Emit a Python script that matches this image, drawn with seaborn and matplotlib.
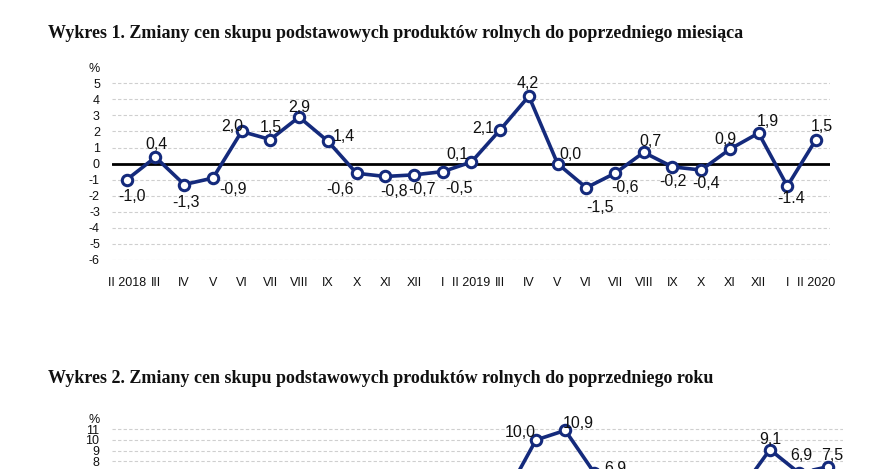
import matplotlib
matplotlib.use("Agg")
import matplotlib.pyplot as plt
import seaborn as sns
import pandas as pd

# ---------------- data ----------------
months = ["II 2018", "III", "IV", "V", "VI", "VII", "VIII", "IX", "X", "XI", "XII", "I",
          "II 2019", "III", "IV", "V", "VI", "VII", "VIII", "IX", "X", "XI", "XII", "I",
          "II 2020"]

mom_values = [-1.0, 0.4, -1.3, -0.9, 2.0, 1.5, 2.9, 1.4, -0.6, -0.8, -0.7, -0.5,
              0.1, 2.1, 4.2, 0.0, -1.5, -0.6, 0.7, -0.2, -0.4, 0.9, 1.9, -1.4, 1.5]
mom_labels = ["-1,0", "0,4", "-1,3", "-0,9", "2,0", "1,5", "2,9", "1,4", "-0,6", "-0,8",
              "-0,7", "-0,5", "0,1", "2,1", "4,2", "0,0", "-1,5", "-0,6", "0,7", "-0,2",
              "-0,4", "0,9", "1,9", "-1.4", "1,5"]

yoy_values = [3.9, 2.0, -0.5, 0.6, 2.2, 1.4, 2.8, 3.9, 2.6, 1.8, 0.9, 1.4,
              2.6, 5.0, 10.0, 10.9, 6.9, 5.0, 4.1, 3.5, 4.0, 5.3, 9.1, 6.9, 7.5]
yoy_labels = ["3,9", "2,0", "-0,5", "0,6", "2,2", "1,4", "2,8", "3,9", "2,6", "1,8",
              "0,9", "1,4", "2,6", "5,0", "10,0", "10,9", "6,9", "5,0", "4,1", "3,5",
              "4,0", "5,3", "9,1", "6,9", "7,5"]

title1 = "Wykres 1. Zmiany cen skupu podstawowych produktów rolnych do poprzedniego miesiąca"
title2 = "Wykres 2. Zmiany cen skupu podstawowych produktów rolnych do poprzedniego roku"

# ---------------- style ----------------
sns.set_theme(style="white")
plt.rcParams["font.family"] = ["Liberation Sans", "DejaVu Sans"]

NAVY = "#142a7c"
GRID = "#cfcfcf"

# label offsets in pixels (dx right, dy down); None = label lies outside the visible crop
off1 = [(5, 17), (1, -13), (2, 18), (20, 11), (-9, -5), (0, -12), (0, -10), (16, -5),
        (-17, 16), (9, 15), (8, 15), (16, 17), (-14, -8), (-17, -1), (-1, -13), (13, -9),
        (14, 20), (10, 14), (7, -11), (0, 15), (5, 13), (-4, -10), (9, -12), (4, 12),
        (6, -13)]
off2 = [None] * 14 + [(-16, -7), (13, -7), (21, -5)] + [None] * 5 + \
       [(0, -10), (2, -18), (4, -11)]

W, H = 890, 469
fig = plt.figure(figsize=(W / 100, H / 100), dpi=100)
fig.patch.set_facecolor("white")


def make_axes(px_left, px_right, px_top, px_bottom):
    return fig.add_axes([px_left / W, 1 - px_bottom / H,
                         (px_right - px_left) / W, (px_bottom - px_top) / H])


def draw(ax, values, labels, offsets, ymin, ymax, tick_min, show_x):
    df = pd.DataFrame({"x": range(len(values)), "v": values})
    ax.set_xlim(-0.5, len(values) - 0.5)
    ax.set_ylim(ymin, ymax)
    for g in range(ymin, ymax):
        if g != 0:
            ax.axhline(g, color=GRID, lw=0.8, ls=(0, (3, 2)), zorder=0)
    ax.axhline(0, color="black", lw=2.0, zorder=1)
    sns.lineplot(data=df, x="x", y="v", ax=ax, color=NAVY, lw=2.6,
                 marker="o", markersize=7.5, markerfacecolor="white",
                 markeredgecolor=NAVY, markeredgewidth=2.2, zorder=3)
    for i, (v, t) in enumerate(zip(values, labels)):
        if offsets[i] is None:
            continue
        dx, dy = offsets[i]
        ax.annotate(t, (i, v), xytext=(dx, -dy), textcoords="offset pixels",
                    ha="center", va="center", fontsize=11.5, color="#111111",
                    zorder=4)
    ticks = list(range(tick_min, ymax + 1))
    ax.set_yticks(ticks)
    ax.set_yticklabels([str(t) for t in ticks[:-1]] + ["%"])
    if show_x:
        ax.set_xticks(range(len(months)))
        ax.set_xticklabels(months)
    else:
        ax.set_xticks([])
    ax.tick_params(axis="y", length=0, pad=9, labelsize=9, labelcolor="#111111")
    ax.tick_params(axis="x", length=0, pad=12, labelsize=9, labelcolor="#111111")
    ax.set_xlabel("")
    ax.set_ylabel("")
    for s in ax.spines.values():
        s.set_visible(False)
    ax.set_facecolor("white")


# chart 1: y=5 at 83.3px, y=-6 at 260px
ppu1 = (260 - 83.3) / 11
top1 = 83.3 - ppu1
ax1 = make_axes(112.4, 830.4, top1, 260)
draw(ax1, mom_values, mom_labels, off1, -6, 6, -6, True)

# chart 2 (cropped at the bottom of the picture): y=11 at 429.3px, range -6..12
ppu2 = 10.67
top2 = 429.3 - ppu2
ax2 = make_axes(112, 843, top2, top2 + 18 * ppu2)
draw(ax2, yoy_values, yoy_labels, off2, -6, 12, 8, False)

fig.text(48 / W, 1 - 33 / H, title1, fontsize=13, fontweight="bold",
         family=["Liberation Serif", "DejaVu Serif"], va="center", ha="left",
         color="#111111")
fig.text(48 / W, 1 - 378 / H, title2, fontsize=13, fontweight="bold",
         family=["Liberation Serif", "DejaVu Serif"], va="center", ha="left",
         color="#111111")

fig.savefig("out.png", dpi=100, facecolor="white")
